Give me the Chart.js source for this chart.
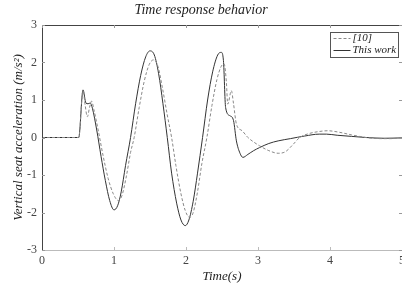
<!DOCTYPE html>
<html>
<head>
<meta charset="utf-8">
<script src="https://cdn.jsdelivr.net/npm/chart.js@4/dist/chart.umd.min.js"></script>
<style>
    html, body { margin: 0; padding: 0; background: #fff; }
    #wrap { width: 402px; height: 284px; }
</style>
</head>
<body>
<div id="wrap"><canvas id="response-chart"></canvas></div>
<script>
// Series (time in s, acceleration in m/s^2)
const refTime = [0, 0.51, 0.57, 0.6, 0.63, 0.66, 0.69, 0.72, 0.78, 0.85, 0.92, 0.99, 1.06, 1.11,
    1.17, 1.23, 1.28, 1.35, 1.42, 1.49, 1.55, 1.61, 1.67, 1.74, 1.8, 1.86, 1.93, 1.99, 2.05,
    2.1, 2.16, 2.22, 2.29, 2.36, 2.43, 2.49, 2.53, 2.56, 2.58, 2.63, 2.66, 2.7, 2.78, 2.86,
    2.94, 3.02, 3.15, 3.28, 3.38, 3.48, 3.58, 3.7, 3.85, 3.97, 4.1, 4.3, 4.5, 4.7, 4.85, 5.0];
const refAccel = [0, 0, 1.25, 0.85, 0.55, 0.8, 0.97, 0.75, 0.2, -0.5, -1.1, -1.5, -1.68, -1.55,
    -1.05, -0.4, 0, 0.8, 1.5, 1.95, 2.07, 1.9, 1.35, 0.6, 0, -0.75, -1.5, -1.95, -2.13,
    -2.0, -1.45, -0.7, 0, 0.85, 1.55, 1.9, 1.96, 1.5, 0.89, 1.25, 0.9, 0.36, 0.18, 0,
    -0.12, -0.22, -0.35, -0.42, -0.38, -0.2, 0, 0.1, 0.16, 0.18, 0.15, 0.07, 0, -0.03, -0.03, 0];

const workTime = [0, 0.51, 0.57, 0.61, 0.64, 0.67, 0.7, 0.76, 0.82, 0.88, 0.94, 1.0, 1.05,
    1.1, 1.16, 1.23, 1.3, 1.37, 1.44, 1.5, 1.56, 1.62, 1.68, 1.74, 1.8, 1.87, 1.93, 1.99,
    2.04, 2.1, 2.16, 2.23, 2.3, 2.37, 2.44, 2.49, 2.52, 2.55, 2.61, 2.66, 2.7, 2.75, 2.79,
    2.86, 2.94, 3.02, 3.15, 3.28, 3.45, 3.65, 3.85, 3.95, 4.1, 4.3, 4.5, 4.75, 5.0];
const workAccel = [0, 0, 1.27, 0.92, 0.9, 0.92, 0.78, 0.2, -0.5, -1.15, -1.68, -1.93, -1.82,
    -1.45, -0.75, 0, 0.9, 1.65, 2.15, 2.31, 2.2, 1.7, 0.9, 0, -0.95, -1.75, -2.2, -2.35,
    -2.2, -1.7, -0.95, 0, 1.0, 1.75, 2.2, 2.27, 2.05, 0.8, 0.58, 0.45, -0.09, -0.42, -0.53,
    -0.45, -0.35, -0.27, -0.16, -0.09, -0.03, 0.04, 0.09, 0.09, 0.06, 0.03, 0, -0.02, -0.01];

const xTicks = [0, 1, 2, 3, 4, 5];
const yTicks = [-3, -2, -1, 0, 1, 2, 3];
const seriesLabels = ['[10]', 'This work'];

const SERIF = "'Liberation Serif', 'DejaVu Serif', serif";

const toPoints = (xs, ys) => xs.map((t, i) => ({ x: t, y: ys[i] }));

// Box around the plot with inward tick marks, matlab style
const framePlugin = {
    id: 'frame',
    afterDatasetsDraw(chart) {
        const { ctx, chartArea: a, scales: { x, y } } = chart;
        ctx.save();
        ctx.lineWidth = 1;

        ctx.strokeStyle = '#bbb';
        ctx.beginPath();
        ctx.moveTo(a.left, a.bottom + 0.5);
        ctx.lineTo(a.right, a.bottom + 0.5);
        xTicks.forEach(v => {
            const px = Math.round(x.getPixelForValue(v)) + 0.5;
            ctx.moveTo(px, a.bottom);
            ctx.lineTo(px, a.bottom - 3);
        });
        ctx.stroke();

        ctx.strokeStyle = '#444';
        ctx.beginPath();
        ctx.moveTo(a.left + 0.5, a.bottom);
        ctx.lineTo(a.left + 0.5, a.top + 0.5);
        ctx.lineTo(a.right, a.top + 0.5);
        ctx.stroke();

        ctx.strokeStyle = '#999';
        ctx.beginPath();
        xTicks.forEach(v => {
            const px = Math.round(x.getPixelForValue(v)) + 0.5;
            ctx.moveTo(px, a.top);
            ctx.lineTo(px, a.top + 3);
        });
        yTicks.forEach(v => {
            const py = Math.round(y.getPixelForValue(v)) + 0.5;
            ctx.moveTo(a.left, py);
            ctx.lineTo(a.left + 3, py);
            ctx.moveTo(a.right, py);
            ctx.lineTo(a.right - 3, py);
        });
        ctx.stroke();
        ctx.restore();
    },
    afterDraw(chart) {
        // legend box in the upper right corner
        const { ctx } = chart;
        const box = { x: 330.5, y: 32.5, w: 68, h: 25 };
        ctx.save();
        ctx.fillStyle = '#fff';
        ctx.fillRect(box.x, box.y, box.w, box.h);
        ctx.strokeStyle = '#555';
        ctx.lineWidth = 1;
        ctx.strokeRect(box.x, box.y, box.w, box.h);

        chart.data.datasets.forEach((ds, i) => {
            const ly = box.y + 6 + i * 12;
            ctx.strokeStyle = ds.borderColor;
            ctx.setLineDash(ds.borderDash || []);
            ctx.beginPath();
            ctx.moveTo(box.x + 3, ly);
            ctx.lineTo(box.x + 20, ly);
            ctx.stroke();
            ctx.setLineDash([]);
            ctx.fillStyle = '#222';
            ctx.font = 'italic 11px ' + SERIF;
            ctx.textBaseline = 'middle';
            ctx.fillText(ds.label, box.x + 22, ly);
        });
        ctx.restore();
    }
};

const ctx = document.getElementById('response-chart').getContext('2d');
new Chart(ctx, {
    type: 'line',
    data: {
        datasets: [{
            label: seriesLabels[0],
            data: toPoints(refTime, refAccel),
            borderColor: '#888',
            borderWidth: 1,
            borderDash: [3, 2],
            pointRadius: 0,
            cubicInterpolationMode: 'monotone',
            fill: false
        }, {
            label: seriesLabels[1],
            data: toPoints(workTime, workAccel),
            borderColor: '#333',
            borderWidth: 1,
            pointRadius: 0,
            cubicInterpolationMode: 'monotone',
            fill: false
        }]
    },
    options: {
        responsive: true,
        maintainAspectRatio: false,
        animation: false,
        layout: { padding: 0 },
        plugins: {
            legend: { display: false },
            tooltip: { enabled: false },
            title: {
                display: true,
                text: 'Time response behavior',
                color: '#222',
                font: { family: SERIF, size: 14, style: 'italic', weight: 'normal', lineHeight: 1.2 },
                padding: { top: 2, bottom: 6.2 }
            }
        },
        scales: {
            x: {
                type: 'linear',
                min: 0,
                max: 5,
                grid: { display: false, drawTicks: false },
                border: { display: false },
                ticks: {
                    stepSize: 1,
                    padding: 4,
                    color: '#444',
                    maxRotation: 0,
                    font: { family: SERIF, size: 12 }
                },
                title: {
                    display: true,
                    text: 'Time(s)',
                    color: '#222',
                    font: { family: SERIF, size: 13, style: 'italic' },
                    padding: 0
                },
                afterFit(scale) {
                    scale.height = 34;
                    scale.paddingLeft = 0;
                    scale.paddingRight = 0;
                }
            },
            y: {
                min: -3,
                max: 3,
                grid: { display: false, drawTicks: false },
                border: { display: false },
                ticks: {
                    stepSize: 1,
                    padding: 5,
                    color: '#444',
                    font: { family: SERIF, size: 12 }
                },
                title: {
                    display: true,
                    text: 'Vertical seat acceleration (m/s²)',
                    color: '#222',
                    font: { family: SERIF, size: 13, style: 'italic' },
                    padding: { top: 11, bottom: 0 }
                },
                afterFit(scale) {
                    scale.width = 42;
                    scale.paddingTop = 0;
                    scale.paddingBottom = 0;
                }
            }
        }
    },
    plugins: [framePlugin]
});
</script>
</body>
</html>
